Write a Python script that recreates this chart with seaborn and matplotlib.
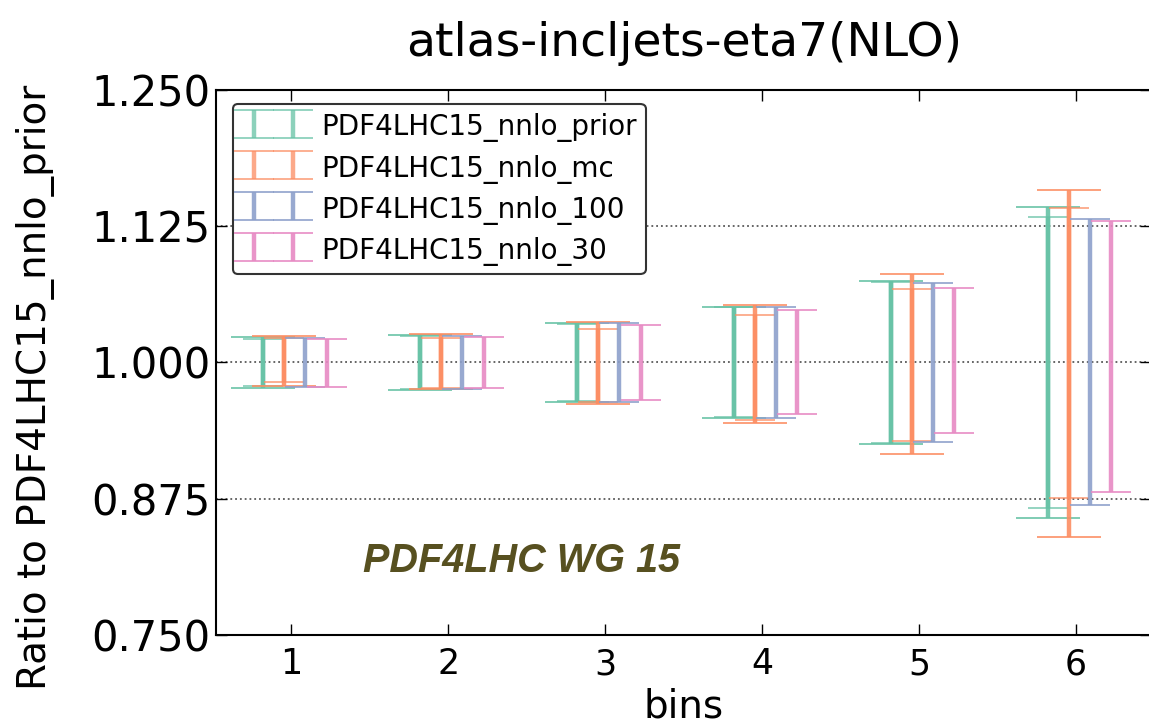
import matplotlib
matplotlib.use("Agg")
import matplotlib.pyplot as plt
from matplotlib.container import ErrorbarContainer
from matplotlib.legend_handler import HandlerErrorbar
import seaborn as sns
import numpy as np

# ---------------- data ----------------
bins = [1, 2, 3, 4, 5, 6]
series = ["PDF4LHC15_nnlo_prior", "PDF4LHC15_nnlo_mc",
          "PDF4LHC15_nnlo_100", "PDF4LHC15_nnlo_30"]

# outer band (68% CL) upper / lower
prior_hi = [1.0229, 1.0248, 1.0363, 1.0510, 1.0749, 1.1428]
prior_lo = [0.9767, 0.9749, 0.9636, 0.9490, 0.9247, 0.8568]
mc_hi = [1.0241, 1.0257, 1.0370, 1.0523, 1.0810, 1.1580]
mc_lo = [0.9780, 0.9760, 0.9614, 0.9446, 0.9158, 0.8400]
h100_hi = [1.0226, 1.0241, 1.0358, 1.0505, 1.0725, 1.1312]
h100_lo = [0.9770, 0.9752, 0.9638, 0.9490, 0.9266, 0.8690]
h30_hi = [1.0214, 1.0232, 1.0345, 1.0480, 1.0685, 1.1300]
h30_lo = [0.9776, 0.9761, 0.9654, 0.9526, 0.9348, 0.8813]

# inner band (1 sigma) for the Monte Carlo sets
prior_hi_in = [1.0214, 1.0240, 1.0351, 1.0505, 1.0737, 1.1336]
prior_lo_in = [0.9780, 0.9758, 0.9648, 0.9495, 0.9257, 0.8660]
mc_hi_in = [1.0226, 1.0223, 1.0306, 1.0437, 1.0670, 1.1413]
mc_lo_in = [0.9816, 0.9765, 0.9638, 0.9470, 0.9280, 0.8752]

yticks = [0.750, 0.875, 1.000, 1.125, 1.250]
title = "atlas-incljets-eta7(NLO)"
xlabel = "bins"
ylabel = "Ratio to PDF4LHC15_nnlo_prior"
watermark = "PDF4LHC WG 15"

# ---------------- style ----------------
sns.set_style("ticks")
plt.rcParams["font.family"] = ["DejaVu Sans"]
for k in ["text.color", "axes.labelcolor", "xtick.color", "ytick.color"]:
    plt.rcParams[k] = "black"
colors = sns.color_palette("Set2", 4)

fig = plt.figure(figsize=(11.49, 7.24), dpi=100)
ax = fig.add_axes([0.188, 0.123, 0.814, 0.753])

outer = [(prior_lo, prior_hi), (mc_lo, mc_hi), (h100_lo, h100_hi), (h30_lo, h30_hi)]
inner = [(prior_lo_in, prior_hi_in), (mc_lo_in, mc_hi_in), None, None]
offsets = [-0.18, -0.045, 0.09, 0.225]
x = np.array(bins, dtype=float)

for i, name in enumerate(series):
    lo, hi = np.array(outer[i][0]), np.array(outer[i][1])
    mid = (lo + hi) / 2
    wide = inner[i] is not None
    ax.errorbar(x + offsets[i], mid, yerr=[mid - lo, hi - mid], fmt="none",
                ecolor=colors[i], elinewidth=3.2, capsize=23 if wide else 14.5,
                capthick=1.3, alpha=0.9, label=None if wide else name)
    if wide:
        lo2, hi2 = np.array(inner[i][0]), np.array(inner[i][1])
        mid2 = (lo2 + hi2) / 2
        ax.errorbar(x + offsets[i], mid2, yerr=[mid2 - lo2, hi2 - mid2], fmt="none",
                    ecolor=colors[i], elinewidth=3.2, capsize=14.5,
                    capthick=1.3, alpha=0.75, label=name)

ax.set_xlim(0.52, 6.48)
ax.set_ylim(0.75, 1.25)
ax.set_yticks(yticks)
ax.set_yticklabels([f"{v:.3f}" for v in yticks])
ax.set_xticks(bins)
ax.tick_params(axis="y", labelsize=30, direction="in", length=8, width=1,
               right=True, pad=4)
ax.tick_params(axis="x", labelsize=25, direction="in", length=8, width=1,
               top=True, pad=9)
ax.yaxis.grid(True, linestyle=":", color="0.35", linewidth=1.3)
for s in ax.spines.values():
    s.set_linewidth(1.5)
    s.set_color("black")

ax.set_title(title, fontsize=34, pad=24)
ax.set_xlabel(xlabel, fontsize=28, labelpad=4)
ax.set_ylabel(ylabel, fontsize=28)
ax.yaxis.set_label_coords(-0.172, 0.455)

ax.text(0.157, 0.115, watermark, transform=ax.transAxes, fontsize=28.5,
        fontweight="bold", fontstyle="italic", color="#575020",
        family=["Liberation Sans", "DejaVu Sans"])

handles, labels = ax.get_legend_handles_labels()
order = [labels.index(s) for s in series]
leg = ax.legend([handles[j] for j in order], [labels[j] for j in order],
                loc="upper left", fontsize=20, handlelength=2.3,
                handleheight=1.2, frameon=True, fancybox=True, framealpha=1,
                bbox_to_anchor=(0.012, 0.985), borderaxespad=0.2,
                labelspacing=0.38, handletextpad=0.6, borderpad=0.3,
                handler_map={ErrorbarContainer: HandlerErrorbar(numpoints=2, marker_pad=0.45)})
leg.get_frame().set_edgecolor("0.2")
leg.get_frame().set_linewidth(1.5)

fig.savefig("out.png", dpi=100)
